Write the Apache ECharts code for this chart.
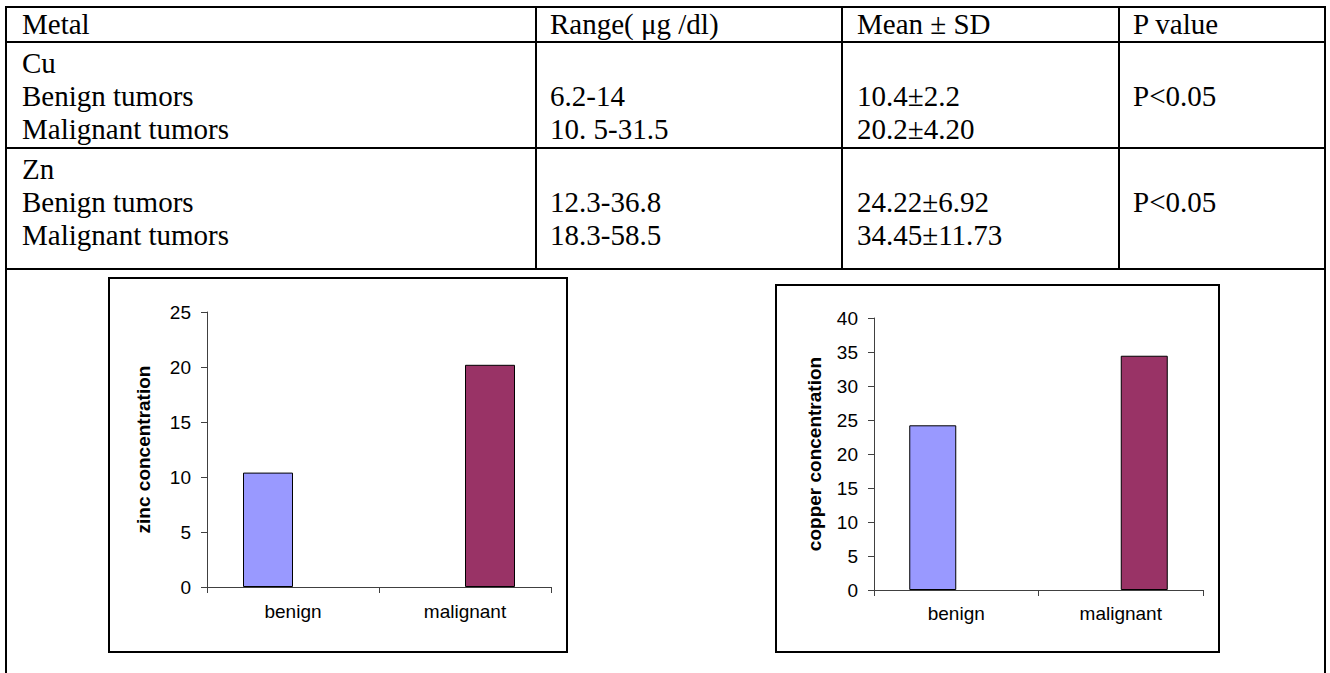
<!DOCTYPE html>
<html><head><meta charset="utf-8">
<script src="https://cdn.jsdelivr.net/npm/echarts@6/dist/echarts.min.js"></script>
<style>
html,body{margin:0;padding:0;width:1330px;height:673px;overflow:hidden;background:#fff;}
#table{position:absolute;left:0;top:0;width:1330px;height:673px;}
.ln{position:absolute;background:#000;}
.tx{position:absolute;font-family:"Liberation Serif","Times New Roman",serif;font-size:29px;line-height:33px;height:33px;white-space:nowrap;color:#000;}
#chart{position:absolute;left:0;top:0;width:1330px;height:673px;}
</style></head><body>
<div id="table"></div><div id="chart"></div>
<script>
// ---- table data ----
const tableHeaders = ['Metal', 'Range( \u03bcg /dl)', 'Mean \u00b1 SD', 'P value'];
const metals = ['Cu', 'Zn'];
const groups = ['Benign tumors', 'Malignant tumors'];
const ranges = [['6.2-14', '10. 5-31.5'], ['12.3-36.8', '18.3-58.5']];
const meanSD = [['10.4\u00b12.2', '20.2\u00b14.20'], ['24.22\u00b16.92', '34.45\u00b111.73']];
const pValues = ['P<0.05', 'P<0.05'];

// ---- chart data ----
const chartCategories = ['benign', 'malignant'];
const zincValues = [10.4, 20.2];
const copperValues = [24.22, 34.45];
const zincTicks = [0, 5, 10, 15, 20, 25];
const copperTicks = [0, 5, 10, 15, 20, 25, 30, 35, 40];
const zincTitle = 'zinc concentration';
const copperTitle = 'copper concentration';

// ---- table layout ----
const colX = [6, 536, 842, 1119, 1325];
const rowY = [7, 42, 148, 269];
const pad = [16, 14, 15, 14];
const T = document.getElementById('table');
function line(x, y, w, h) {
  const d = document.createElement('div'); d.className = 'ln';
  d.style.left = x + 'px'; d.style.top = y + 'px'; d.style.width = w + 'px'; d.style.height = h + 'px';
  T.appendChild(d);
}
function text(col, cy, s) {
  const d = document.createElement('div'); d.className = 'tx';
  d.style.left = (colX[col] + pad[col]) + 'px'; d.style.top = (cy - 16.5) + 'px';
  d.textContent = s; T.appendChild(d);
}
rowY.forEach(y => line(colX[0] - 1, y - 1, colX[4] - colX[0] + 2, 2));
[1, 2, 3].forEach(i => line(colX[i] - 1, rowY[0] - 1, 2, rowY[3] - rowY[0] + 2));
[0, 4].forEach(i => line(colX[i] - 1, rowY[0] - 1, 2, 700));
tableHeaders.forEach((h, i) => text(i, 24.5, h));
metals.forEach((m, g) => {
  const base = rowY[g + 1] + 4.5 + 16.5;
  text(0, base, m);
  groups.forEach((gr, k) => {
    const cy = base + (k + 1) * 33;
    text(0, cy, gr);
    text(1, cy, ranges[g][k]);
    text(2, cy, meanSD[g][k]);
  });
  text(3, base + 33, pValues[g]);
});

// ---- charts ----
const font = '"Liberation Sans", Arial, sans-serif';
const axisColor = '#404040';
function yAxis(gi, ticks, name, nameGap) {
  return {
    type: 'value', gridIndex: gi, min: ticks[0], max: ticks[ticks.length - 1], interval: ticks[1] - ticks[0],
    name: name, nameLocation: 'middle', nameRotate: 90, nameGap: nameGap,
    nameTextStyle: { fontFamily: font, fontSize: 19, fontWeight: 'bold', color: '#000' },
    axisLine: { show: true, lineStyle: { color: axisColor, width: 1 } },
    axisTick: { show: true, length: 6, lineStyle: { color: axisColor, width: 1 } },
    axisLabel: { fontFamily: font, fontSize: 19, color: '#000', margin: 16 },
    splitLine: { show: false }
  };
}
function xAxis(gi, margin) {
  return {
    type: 'category', gridIndex: gi, data: chartCategories,
    axisLine: { show: true, lineStyle: { color: axisColor, width: 1 } },
    axisTick: { show: true, length: 6, interval: 0, lineStyle: { color: axisColor, width: 1 } },
    axisLabel: { fontFamily: font, fontSize: 19, color: '#000', margin: margin, interval: 0 },
    splitLine: { show: false }
  };
}
const colors = ['#9999FF', '#993366'];
function bars(gi, values, bw) {
  return chartCategories.map((c, i) => ({
    type: 'bar', name: c, xAxisIndex: gi, yAxisIndex: gi,
    data: chartCategories.map((_, j) => (j === i ? values[i] : null)),
    barWidth: bw, barGap: '0%',
    itemStyle: { color: colors[i], borderColor: '#000', borderWidth: 1 }
  }));
}
const chart = echarts.init(document.getElementById('chart'), null, { renderer: 'svg' });
chart.setOption({
  animation: false,
  backgroundColor: 'transparent',
  grid: [
    { left: 207, top: 312, width: 344, height: 275 },
    { left: 874, top: 318, width: 329, height: 272 }
  ],
  xAxis: [xAxis(0, 15), xAxis(1, 14)],
  yAxis: [yAxis(0, zincTicks, zincTitle, 54), yAxis(1, copperTicks, copperTitle, 50)],
  series: bars(0, zincValues, 50).concat(bars(1, copperValues, 47)),
  graphic: [
    { type: 'rect', shape: { x: 109, y: 278, width: 458, height: 374 }, style: { fill: 'none', stroke: '#000', lineWidth: 2 }, silent: true },
    { type: 'rect', shape: { x: 776, y: 285, width: 443, height: 367 }, style: { fill: 'none', stroke: '#000', lineWidth: 2 }, silent: true }
  ]
});
</script></body></html>
